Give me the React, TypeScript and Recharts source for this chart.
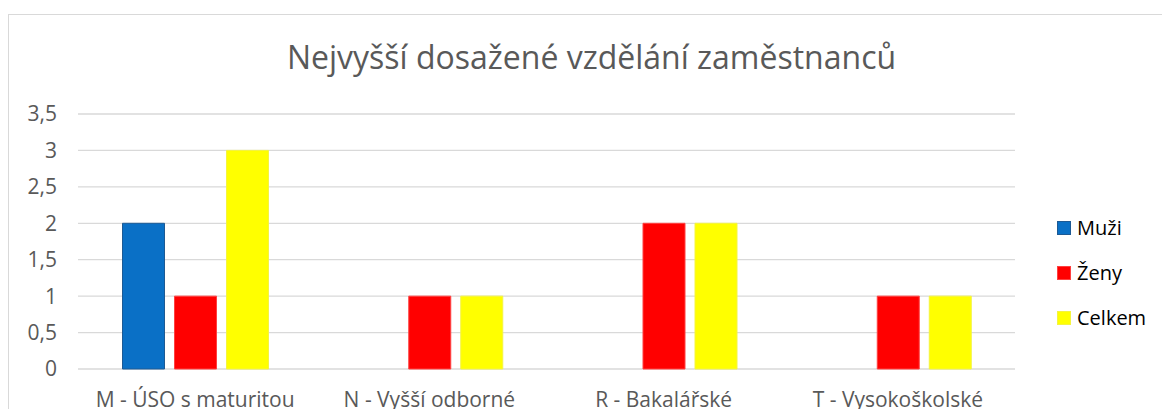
import React from "react";
import { BarChart, Bar, XAxis, YAxis, CartesianGrid } from "recharts";

const categories = [
  "M - ÚSO s maturitou",
  "N - Vyšší odborné",
  "R - Bakalářské",
  "T - Vysokoškolské",
];
const muzi: (number | null)[] = [2, null, null, null];
const zeny: number[] = [1, 1, 2, 1];
const celkem: number[] = [3, 1, 2, 1];
const yTicks = [0, 0.5, 1, 1.5, 2, 2.5, 3, 3.5];

const title = "Nejvyšší dosažené vzdělání zaměstnanců";

const series = [
  { key: "muzi", name: "Muži", fill: "#0a70c6", stroke: "#1d5a94" },
  { key: "zeny", name: "Ženy", fill: "#ff0000", stroke: "#ff4040" },
  { key: "celkem", name: "Celkem", fill: "#ffff00", stroke: "#f4f440" },
];

const data = categories.map((c, i) => ({
  cat: c,
  muzi: muzi[i],
  zeny: zeny[i],
  celkem: celkem[i],
}));

const FONT = "'Open Sans', sans-serif";

export default function App() {
  return (
    <div
      style={{
        position: "fixed",
        left: 0,
        top: 0,
        width: 1162,
        height: 409,
        overflow: "hidden",
        background: "#fff",
        fontFamily: FONT,
      }}
    >
      <div
        style={{
          position: "absolute",
          left: 8,
          top: 14,
          width: 1200,
          height: 440,
          border: "1px solid #d9d9d9",
          boxSizing: "border-box",
        }}
      />
      <div
        style={{
          position: "absolute",
          left: 0,
          top: 39,
          width: 1183,
          textAlign: "center",
          fontSize: 32,
          color: "#595959",
          lineHeight: "36px",
          whiteSpace: "nowrap",
        }}
      >
        {title}
      </div>
      <div style={{ position: "absolute", left: 0, top: 0 }}>
        <BarChart
          width={1162}
          height={409}
          data={data}
          margin={{ top: 114, right: 147, bottom: 0, left: 0 }}
          barCategoryGap="19%"
          barGap={10}
        >
          <CartesianGrid
            vertical={false}
            stroke="#d9d9d9"
            strokeWidth={1.3}
          />
          <XAxis
            dataKey="cat"
            axisLine={false}
            tickLine={false}
            height={40}
            tickMargin={17}
            interval={0}
            tick={{ fill: "#595959", fontSize: 21, fontFamily: FONT }}
          />
          <YAxis
            width={78}
            domain={[0, 3.5]}
            ticks={yTicks}
            axisLine={false}
            tickLine={false}
            tickMargin={15}
            tickFormatter={(v: number) => String(v).replace(".", ",")}
            tick={{ fill: "#595959", fontSize: 21, fontFamily: FONT }}
          />
          {series.map((s) => (
            <Bar
              key={s.key}
              dataKey={s.key}
              name={s.name}
              fill={s.fill}
              stroke={s.stroke}
              strokeWidth={1}
              isAnimationActive={false}
            />
          ))}
        </BarChart>
      </div>
      <div style={{ position: "absolute", left: 1057, top: 205 }}>
        {series.map((s) => (
          <div
            key={s.key}
            style={{
              height: 45,
              display: "flex",
              alignItems: "center",
              fontSize: 20,
              color: "#000",
            }}
          >
            <span
              style={{
                display: "inline-block",
                width: 14,
                height: 14,
                background: s.fill,
                border: `1px solid ${s.stroke}`,
                boxSizing: "border-box",
                marginRight: 6,
              }}
            />
            <span>{s.name}</span>
          </div>
        ))}
      </div>
    </div>
  );
}
